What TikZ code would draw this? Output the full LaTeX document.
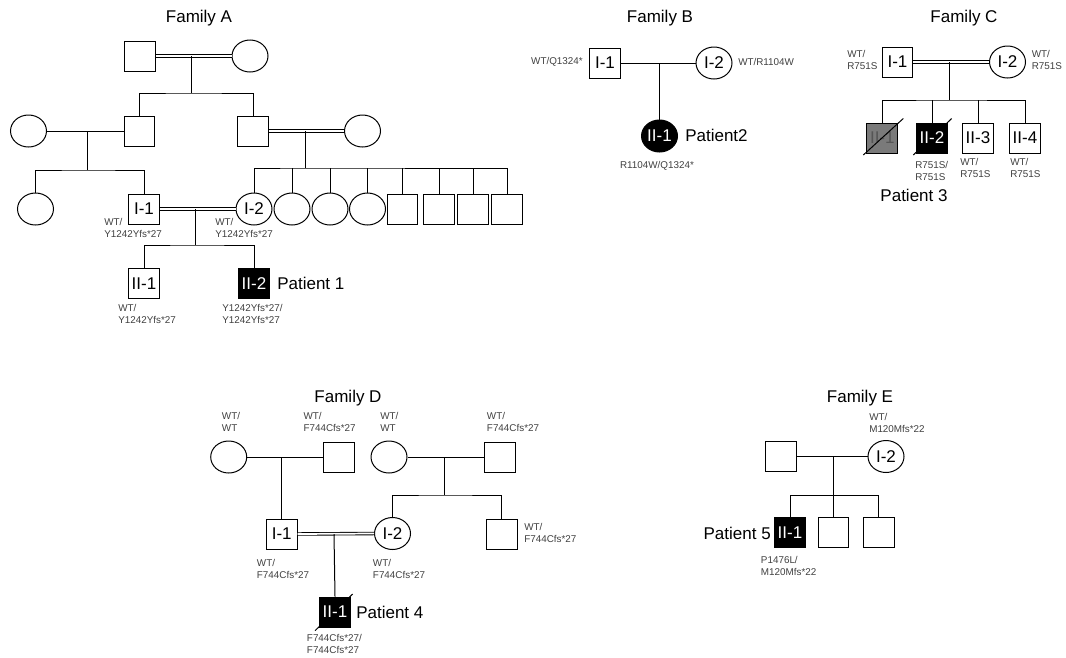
\documentclass[tikz,border=0pt]{standalone}
\usepackage{fontspec}
\setmainfont{Liberation Sans}
\usetikzlibrary{shapes.geometric,calc}
\definecolor{gtext}{HTML}{404040}
\definecolor{dgray}{HTML}{7A7A7A}
\definecolor{dgtext}{HTML}{555555}
\newcommand\bigf{\fontsize{12.75}{14}\selectfont}
\newcommand\smlf{\fontsize{7.4}{9.4}\selectfont}
\tikzset{
  ln/.style={line width=0.75pt, draw=black},
  dbl/.style={draw=black, double=white, double distance=1.3pt, line width=0.65pt},
  male/.style={draw=black, rectangle, line width=0.75pt, minimum width=23pt, minimum height=22.5pt, inner sep=0pt, font=\bigf},
  female/.style={draw=black, ellipse, line width=0.75pt, minimum width=27pt, minimum height=24pt, inner sep=0pt, font=\bigf},
  aff/.style={fill=black, text=white},
  grayaff/.style={fill=dgray, text=dgtext},
  intext/.style={font=\bigf, inner sep=0pt},
  geno/.style={font=\smlf, text=gtext, align=left, inner sep=0pt},
  ttl/.style={font=\bigf, inner sep=0pt},
  ptlab/.style={font=\bigf, inner sep=0pt},
  slash/.style={line width=0.75pt, draw=black}
}
\begin{document}
\begin{tikzpicture}[x=0.75pt, y=-0.75pt]
\useasboundingbox (0,0) rectangle (1066,657);

%% ---------------- Family A ----------------
\node[ttl] (tA) at (199,18) {Family A};
\node[male] (A1) at (140,56) {};
\node[female] (A2) at (250,56) {};
\draw[dbl] (A1.east) -- (A2.west);
\coordinate (mA1) at (191,56);
\coordinate (bA1) at (191,93);
\draw[ln] (mA1) -- (bA1);
\node[female] (A3) at (28.5,131) {};
\node[male] (A4) at (139.5,131) {};
\node[male] (A5) at (253,131) {};
\node[female] (A6) at (362.5,131) {};
\draw[ln] (A4.north) |- (bA1) -| (A5.north);
\draw[ln] (A3.east) -- (A4.west);
\coordinate (mA2) at (87,131);
\coordinate (bA2) at (87,170);
\draw[ln] (mA2) -- (bA2);
\node[female] (A7) at (35.5,209) {};
\node[male] (AI1) at (144,209) {I-1};
\draw[ln] (A7.north) |- (bA2) -| (AI1.north);
\draw[dbl] (A5.east) -- (A6.west);
\coordinate (mA3) at (305,131);
\coordinate (bA3) at (305,168);
\draw[ln] (mA3) -- (bA3);
\node[female] (AI2) at (254,209) {I-2};
\node[female] (A8) at (292,209) {};
\node[female] (A9) at (330,209) {};
\node[female] (A10) at (367.5,209) {};
\node[male] (A11) at (402.5,209) {};
\node[male] (A12) at (439,209) {};
\node[male] (A13) at (473.3,209) {};
\node[male] (A14) at (507.3,209) {};
\draw[ln] (AI2.north) |- (bA3) -| (A14.north);
\foreach \n in {A8,A9,A10,A11,A12,A13}{\draw[ln] (\n.north) -- (\n.north |- bA3);}
\draw[dbl] (AI1.east) -- (AI2.west);
\coordinate (mA4) at (195,209);
\coordinate (bA4) at (195,245);
\draw[ln] (mA4) -- (bA4);
\node[male] (AII1) at (144,283.5) {II-1};
\node[male,aff] (AII2) at (254,283.5) {II-2};
\draw[ln] (AII1.north) |- (bA4) -| (AII2.north);
\node[ptlab, anchor=west] (pA) at (277,283.5) {Patient 1};
\node[geno, anchor=west] (gAI1) at (104,228) {WT/\\Y1242Yfs*27};
\node[geno, anchor=west] (gAI2) at (215,228) {WT/\\Y1242Yfs*27};
\node[geno, anchor=west] (gAII1) at (118,314) {WT/\\Y1242Yfs*27};
\node[geno, anchor=west] (gAII2) at (222,314) {Y1242Yfs*27/\\Y1242Yfs*27};

%% ---------------- Family B ----------------
\node[ttl] (tB) at (660,18) {Family B};
\node[male] (BI1) at (605,63) {I-1};
\node[female] (BI2) at (714,63) {I-2};
\draw[ln] (BI1.east) -- (BI2.west);
\coordinate (mB) at (659.5,63);
\node[female,aff] (BII1) at (659.5,136) {II-1};
\draw[ln] (mB) -- (BII1.north);
\node[ptlab, anchor=west] (pB) at (685,135) {Patient2};
\node[geno, anchor=east] (gBI1) at (583,62) {WT/Q1324*};
\node[geno, anchor=west] (gBI2) at (738,62) {WT/R1104W};
\node[geno] (gBII1) at (657,166) {R1104W/Q1324*};

%% ---------------- Family C ----------------
\node[ttl] (tC) at (964,18) {Family C};
\node[male] (CI1) at (897.5,62) {I-1};
\node[female] (CI2) at (1007.5,62) {I-2};
\draw[dbl] (CI1.east) -- (CI2.west);
\coordinate (mC) at (949.3,62);
\coordinate (bC) at (949.3,100);
\draw[ln] (mC) -- (bC);
\node[male,grayaff] (CII1) at (882.3,138) {};
\node[male,aff] (CII2) at (932,138) {};
\node[male] (CII3) at (978,138) {II-3};
\node[male] (CII4) at (1025,138) {II-4};
\draw[ln] (CII1.north) |- (bC) -| (CII4.north);
\foreach \n in {CII2,CII3}{\draw[ln] (\n.north) -- (\n.north |- bC);}
\node[intext, text=dgtext] (tCII1) at (CII1.center) {II-1};
\draw[slash] ($(CII1.center)+(-19,17)$) -- ($(CII1.center)+(21,-19.5)$);
\draw[slash] ($(CII2.center)+(-18.7,17)$) -- ($(CII2.center)+(19.7,-19.5)$);
\node[intext, text=white] (tCII2) at (CII2.center) {II-2};
\node[geno, anchor=west] (gCI1) at (847,60) {WT/\\R751S};
\node[geno, anchor=west] (gCI2) at (1031.5,60) {WT/\\R751S};
\node[geno, anchor=west] (gCII2) at (915,171) {R751S/\\R751S};
\node[geno, anchor=west] (gCII3) at (960,168) {WT/\\R751S};
\node[geno, anchor=west] (gCII4) at (1010,168) {WT/\\R751S};
\node[ptlab] (pC) at (914,195) {Patient 3};

%% ---------------- Family D ----------------
\node[ttl] (tD) at (348,398) {Family D};
\node[female] (D1) at (228.7,457) {};
\node[male] (D2) at (339,457) {};
\node[female] (D3) at (389,457) {};
\node[male] (D4) at (500,457) {};
\draw[ln] (D1.east) -- (D2.west);
\draw[ln] (D3.east) -- (D4.west);
\coordinate (mD1) at (281.7,457);
\node[male] (DI1) at (281.7,534) {I-1};
\draw[ln] (mD1) -- (DI1.north);
\coordinate (mD2) at (444,457);
\coordinate (bD2) at (444,495);
\draw[ln] (mD2) -- (bD2);
\node[female] (DI2) at (392.5,533.5) {I-2};
\node[male] (D5) at (501.7,534) {};
\draw[ln] (DI2.north) |- (bD2) -| (D5.north);
\draw[dbl] (DI1.east) -- (DI2.west);
\coordinate (mD3) at (334,534);
\node[male,aff] (DII1) at (335,612) {};
\draw[ln] (mD3) -- (DII1.north);
\draw[slash] ($(DII1.center)+(-20,18.7)$) -- ($(DII1.center)+(17.7,-18)$);
\node[intext, text=white] (tDII1) at (DII1.center) {II-1};
\node[ptlab, anchor=west] (pD) at (356,612) {Patient 4};
\node[geno, anchor=west] (gD1) at (221.7,422) {WT/\\WT};
\node[geno, anchor=west] (gD2) at (303.3,422) {WT/\\F744Cfs*27};
\node[geno, anchor=west] (gD3) at (380,422) {WT/\\WT};
\node[geno, anchor=west] (gD4) at (486.7,422) {WT/\\F744Cfs*27};
\node[geno, anchor=west] (gD5) at (524,533) {WT/\\F744Cfs*27};
\node[geno, anchor=west] (gDI1) at (256.7,569) {WT/\\F744Cfs*27};
\node[geno, anchor=west] (gDI2) at (372.7,569) {WT/\\F744Cfs*27};
\node[geno, anchor=west] (gDII1) at (306.7,644) {F744Cfs*27/\\F744Cfs*27};

%% ---------------- Family E ----------------
\node[ttl] (tE) at (860,398) {Family E};
\node[male] (E1) at (780.7,456.5) {};
\node[female] (EI2) at (886,456.5) {I-2};
\draw[ln] (E1.east) -- (EI2.west);
\coordinate (mE) at (833.5,456.5);
\coordinate (bE) at (833.5,495.7);
\draw[ln] (mE) -- (bE);
\node[male,aff] (EII1) at (790,532.5) {II-1};
\node[male] (E2) at (833.5,532.5) {};
\node[male] (E3) at (878.7,532.5) {};
\draw[ln] (EII1.north) |- (bE) -| (E3.north);
\draw[ln] (bE) -- (E2.north);
\node[ptlab, anchor=east] (pE) at (771,533) {Patient 5};
\node[geno, anchor=west] (gEI2) at (869,423) {WT/\\M120Mfs*22};
\node[geno, anchor=west] (gEII1) at (760.7,566) {P1476L/\\M120Mfs*22};
\end{tikzpicture}
\end{document}
